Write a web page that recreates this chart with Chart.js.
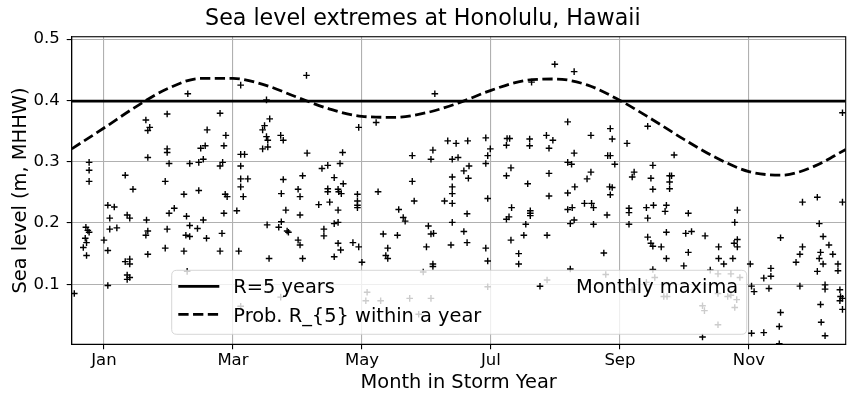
<!DOCTYPE html>
<html><head><meta charset="utf-8">
<script src="https://cdn.jsdelivr.net/npm/chart.js@4.4.1/dist/chart.umd.min.js"></script>
<style>html,body{margin:0;padding:0;background:#fff}#wrap{width:855px;height:403px}</style>
</head><body><div id="wrap"><canvas id="c" width="855" height="403"></canvas></div>
<script>
// ---- data ----
const monthTicks = [1, 3, 5, 7, 9, 11];
const monthLabels = ['Jan', 'Mar', 'May', 'Jul', 'Sep', 'Nov'];
const levelTicks = [0.1, 0.2, 0.3, 0.4, 0.5];

const returnLevel5 = 0.399;   // R=5 years

const curveMonth = [0.5,1.0,1.5,2.0,2.5,3.0,3.5,4.0,4.5,5.0,5.5,6.0,6.5,7.0,7.5,8.0,8.5,9.0,9.5,10.0,10.5,11.0,11.5,12.0,12.5];
const curveLevel = [0.321,0.355,0.390,0.420,0.436,0.436,0.425,0.405,0.386,0.374,0.3725,0.380,0.396,0.4165,0.432,0.435,0.425,0.400,0.369,0.336,0.306,0.284,0.278,0.292,0.320];

const maximaMonth = [
0.77,0.77,0.77,1.33,1.45,1.65,1.71,1.68,1.68,1.98,1.98,1.98,2.01,1.95,2.30,2.33,2.47,2.54,2.50,2.57,2.60,2.80,2.89,2.86,2.84,2.80,3.12,3.12,3.18,3.12,3.12,3.23,3.12,3.52,3.57,3.49,3.46,3.52,3.54,3.46,3.54,
0.54,0.72,0.75,0.77,0.71,0.73,0.68,0.73,1.00,1.06,1.06,1.16,1.09,1.09,1.20,1.06,1.36,1.40,1.33,1.40,1.40,1.36,1.40,1.36,1.66,1.68,1.65,1.68,2.01,2.09,1.98,1.95,2.24,2.28,2.33,2.45,2.27,2.33,2.24,2.54,2.59,2.47,2.88,2.91,2.86,2.83,2.80,3.16,3.06,3.09,3.53,3.56,2.29,3.12,
4.14,3.74,3.78,4.15,4.70,4.66,4.47,4.38,4.57,4.08,3.78,4.71,4.01,4.47,4.63,4.95,5.22,6.13,5.78,6.10,6.07,6.33,6.46,6.64,6.40,6.49,6.58,6.66,6.65,6.40,6.40,5.78,
3.75,4.04,4.47,4.64,4.68,4.93,5.25,4.93,4.93,4.93,4.33,4.50,4.63,4.04,3.82,3.75,3.71,3.84,3.86,4.57,4.63,4.41,4.41,4.01,4.04,4.08,4.63,4.67,4.57,4.86,4.95,5.00,5.33,5.55,5.57,5.64,5.67,5.81,5.40,5.37,5.40,6.03,6.07,6.11,6.00,6.10,6.10,6.28,6.40,6.40,6.40,6.38,6.58,6.63,6.63,
3.74,5.08,5.06,5.29,5.74,6.07,5.95,5.88,
7.99,8.29,7.63,8.19,6.92,6.99,6.95,6.92,7.25,7.29,7.24,7.60,7.60,7.86,7.96,7.90,8.55,8.85,8.88,8.29,8.81,8.85,8.19,8.25,8.92,7.31,7.24,7.57,7.90,8.55,8.49,8.30,8.84,8.88,9.11,9.43,9.22,9.19,9.51,9.48,9.51,
6.95,7.90,8.19,8.85,7.32,7.28,7.24,7.61,7.61,7.61,7.54,8.19,8.26,8.45,8.56,8.59,8.23,8.29,8.59,8.80,7.31,7.51,7.87,6.92,6.95,7.43,7.43,8.75,8.23,9.14,9.14,9.14,9.41,9.52,9.43,9.43,9.48,9.51,9.51,
6.95,7.87,8.78,9.19,9.41,9.54,
9.72,9.70,10.06,10.82,10.78,9.72,10.02,10.11,10.32,10.53,10.06,9.72,9.99,10.53,10.61,10.75,10.77,10.82,10.82,9.64,
10.40,10.52,10.72,10.86,9.68,9.73,10.52,10.67,10.72,10.81,10.78,10.28,10.31,10.52,10.28,
11.02,11.34,11.34,11.23,11.04,11.08,11.31,11.04,11.23,11.49,11.47,11.47,11.49,
11.83,12.06,12.45,12.09,12.15,12.24,11.83,11.79,11.73,12.11,12.09,12.15,12.30,12.38,12.38,12.06,11.79,12.18,12.18,12.41,12.42,12.45,12.41,12.45,12.11,12.12,12.18,
12.45,9.84,9.77,9.80,9.77,9.77
];
const maximaLevel = [
0.299,0.286,0.268,0.278,0.255,0.368,0.356,0.351,0.307,0.378,0.321,0.315,0.297,0.268,0.411,0.297,0.299,0.304,0.322,0.326,0.352,0.379,0.343,0.326,0.299,0.293,0.425,0.312,0.312,0.293,0.272,0.272,0.259,0.401,0.370,0.359,0.352,0.341,0.335,0.321,0.324,
0.085,0.193,0.188,0.185,0.175,0.168,0.160,0.147,0.172,0.155,0.229,0.226,0.208,0.190,0.192,0.098,0.213,0.208,0.137,0.141,0.133,0.115,0.111,0.108,0.205,0.187,0.180,0.149,0.216,0.224,0.190,0.159,0.247,0.211,0.196,0.191,0.180,0.178,0.154,0.205,0.175,0.253,0.247,0.243,0.216,0.183,0.154,0.243,0.220,0.154,0.197,0.142,0.121,0.064,
0.441,0.343,0.335,0.314,0.315,0.297,0.294,0.289,0.274,0.277,0.271,0.264,0.255,0.256,0.255,0.356,0.364,0.411,0.310,0.319,0.304,0.334,0.330,0.334,0.304,0.307,0.285,0.293,0.273,0.275,0.259,0.268,
0.248,0.243,0.251,0.251,0.248,0.247,0.251,0.236,0.229,0.225,0.230,0.234,0.221,0.213,0.221,0.202,0.193,0.187,0.185,0.199,0.201,0.190,0.179,0.172,0.164,0.142,0.167,0.156,0.145,0.168,0.161,0.136,0.182,0.180,0.222,0.209,0.203,0.236,0.159,0.147,0.142,0.195,0.182,0.183,0.161,0.133,0.129,0.236,0.232,0.248,0.201,0.164,0.186,0.215,0.168,
0.079,0.087,0.073,0.073,0.077,0.077,0.120,0.051,
0.459,0.447,0.430,0.365,0.339,0.321,0.310,0.297,0.338,0.338,0.327,0.337,0.326,0.343,0.335,0.322,0.343,0.354,0.337,0.314,0.310,0.310,0.299,0.296,0.296,0.290,0.277,0.264,0.281,0.283,0.272,0.259,0.259,0.258,0.330,0.358,0.283,0.275,0.294,0.273,0.255,
0.240,0.244,0.249,0.246,0.225,0.210,0.206,0.220,0.216,0.212,0.198,0.222,0.225,0.232,0.232,0.225,0.199,0.205,0.198,0.213,0.172,0.180,0.180,0.159,0.138,0.150,0.133,0.151,0.125,0.224,0.217,0.198,0.225,0.229,0.208,0.177,0.167,0.162,0.124,
0.096,0.107,0.116,0.091,0.103,0.111,
0.229,0.219,0.216,0.221,0.201,0.185,0.183,0.186,0.179,0.161,0.152,0.142,0.130,0.142,0.133,0.142,0.167,0.161,0.173,0.161,
0.123,0.117,0.117,0.111,0.080,0.080,0.085,0.080,0.082,0.075,0.062,0.065,0.057,0.034,0.014,
0.133,0.126,0.113,0.110,0.097,0.088,0.093,0.020,0.021,0.054,0.031,0.003,0.176,
0.234,0.242,0.234,0.199,0.178,0.164,0.161,0.149,0.136,0.152,0.142,0.133,0.149,0.133,0.122,0.121,0.097,0.099,0.092,0.091,0.080,0.077,0.073,0.059,0.067,0.038,0.016,
0.380,0.311,0.277,0.277,0.267,0.256
];

// ---- chart ----
Chart.defaults.font.family = "'DejaVu Sans', sans-serif";
Chart.defaults.color = '#000';

const xyPairs = (xs, ys) => xs.map((x, i) => ({x, y: ys[i]}));
const FONT_TICK = 16.5, FONT_LABEL = 19.4, FONT_TITLE = 22.2, FONT_LEG = 19.4;
const MARK_R = 3.3, MARK_W = 1.4;

const frameAndLegend = {
  id: 'frameAndLegend',
  afterDraw(chart) {
    const {ctx, chartArea: a} = chart;
    const ds = chart.data.datasets;
    ctx.save();
    // axes frame
    ctx.strokeStyle = '#000'; ctx.lineWidth = 1.1;
    ctx.strokeRect(a.left, a.top, a.right - a.left, a.bottom - a.top);
    // legend box
    const L = a.left + 100, R = a.left + 675, T = a.bottom - 74, B = a.bottom - 10, r = 5;
    ctx.beginPath();
    ctx.moveTo(L + r, T); ctx.lineTo(R - r, T); ctx.quadraticCurveTo(R, T, R, T + r);
    ctx.lineTo(R, B - r); ctx.quadraticCurveTo(R, B, R - r, B);
    ctx.lineTo(L + r, B); ctx.quadraticCurveTo(L, B, L, B - r);
    ctx.lineTo(L, T + r); ctx.quadraticCurveTo(L, T, L + r, T); ctx.closePath();
    ctx.fillStyle = 'rgba(255,255,255,0.8)'; ctx.fill();
    ctx.strokeStyle = 'rgba(204,204,204,0.8)'; ctx.lineWidth = 1; ctx.stroke();
    // handles
    const y1 = T + 16, y2 = T + 44;
    const hx0 = L + 6.6, hx1 = L + 47.6;
    ctx.strokeStyle = '#000'; ctx.lineWidth = 2.8; ctx.lineCap = 'butt';
    ctx.beginPath(); ctx.moveTo(hx0, y1); ctx.lineTo(hx1, y1); ctx.stroke();
    ctx.setLineDash([10.3, 4.45]);
    ctx.beginPath(); ctx.moveTo(hx0, y2); ctx.lineTo(hx1, y2); ctx.stroke();
    ctx.setLineDash([]);
    // marker handle
    const mx = L + 368.3;
    ctx.lineWidth = MARK_W;
    ctx.beginPath(); ctx.moveTo(mx - MARK_R, y1); ctx.lineTo(mx + MARK_R, y1);
    ctx.moveTo(mx, y1 - MARK_R); ctx.lineTo(mx, y1 + MARK_R); ctx.stroke();
    // texts
    ctx.fillStyle = '#000';
    ctx.font = FONT_LEG + "px 'DejaVu Sans'";
    ctx.textBaseline = 'alphabetic'; ctx.textAlign = 'left';
    ctx.fillText(ds[0].label, L + 61.6, y1 + 6.9);
    ctx.fillText(ds[1].label, L + 61.6, y2 + 7.3);
    ctx.fillText(ds[2].label, L + 404.3, y1 + 6.9);
    ctx.restore();
  }
};

new Chart(document.getElementById('c'), {
  type: 'scatter',
  data: {
    datasets: [
      { type: 'line', label: 'R=5 years',
        data: [{x: 0.5, y: returnLevel5}, {x: 12.5, y: returnLevel5}],
        borderColor: '#000', borderWidth: 2.8, pointRadius: 0, fill: false },
      { type: 'line', label: 'Prob. R_{5} within a year',
        data: xyPairs(curveMonth, curveLevel),
        borderColor: '#000', borderWidth: 2.8, borderDash: [10.3, 4.45], pointRadius: 0,
        cubicInterpolationMode: 'monotone', fill: false },
      { type: 'scatter', label: 'Monthly maxima',
        data: xyPairs(maximaMonth, maximaLevel),
        pointStyle: 'cross', pointRadius: MARK_R, borderWidth: MARK_W,
        borderColor: '#000', backgroundColor: '#000' }
    ]
  },
  options: {
    responsive: false, animation: false, devicePixelRatio: 1,
    layout: { padding: { left: 0, right: 9.3, top: 0, bottom: 0 } },
    plugins: {
      legend: { display: false },
      tooltip: { enabled: false },
      title: { display: true, text: 'Sea level extremes at Honolulu, Hawaii',
        font: { size: FONT_TITLE, weight: 'normal' }, color: '#000',
        padding: { top: 5.7, bottom: 4.4 } }
    },
    scales: {
      x: {
        type: 'linear', min: 0.5, max: 12.5,
        afterBuildTicks: s => { s.ticks = monthTicks.map(v => ({value: v})); },
        afterFit: s => { s.height = 58.7; },
        ticks: { callback: v => monthLabels[monthTicks.indexOf(v)], font: { size: FONT_TICK },
          color: '#000', padding: 2, maxRotation: 0, autoSkip: false },
        grid: { color: '#b0b0b0', lineWidth: 1.1, tickColor: '#000', tickLength: 5, tickWidth: 1.1 },
        border: { display: true, color: '#000', width: 1.1 },
        title: { display: true, text: 'Month in Storm Year', font: { size: FONT_LABEL },
          color: '#000', padding: { top: 4, bottom: 8.4 } }
      },
      y: {
        type: 'linear', min: 0.002, max: 0.504,
        afterBuildTicks: s => { s.ticks = levelTicks.map(v => ({value: v})); },
        afterFit: s => { s.width = 71.7; },
        ticks: { callback: v => v.toFixed(1), font: { size: FONT_TICK }, color: '#000', padding: 7 },
        grid: { color: '#b0b0b0', lineWidth: 1.1, tickColor: '#000', tickLength: 5, tickWidth: 1.1 },
        border: { display: true, color: '#000', width: 1.1 },
        title: { display: true, text: 'Sea level (m, MHHW)', font: { size: FONT_LABEL },
          color: '#000', padding: { top: 9.5, bottom: 4 } }
      }
    }
  },
  plugins: [frameAndLegend]
});
</script></body></html>
